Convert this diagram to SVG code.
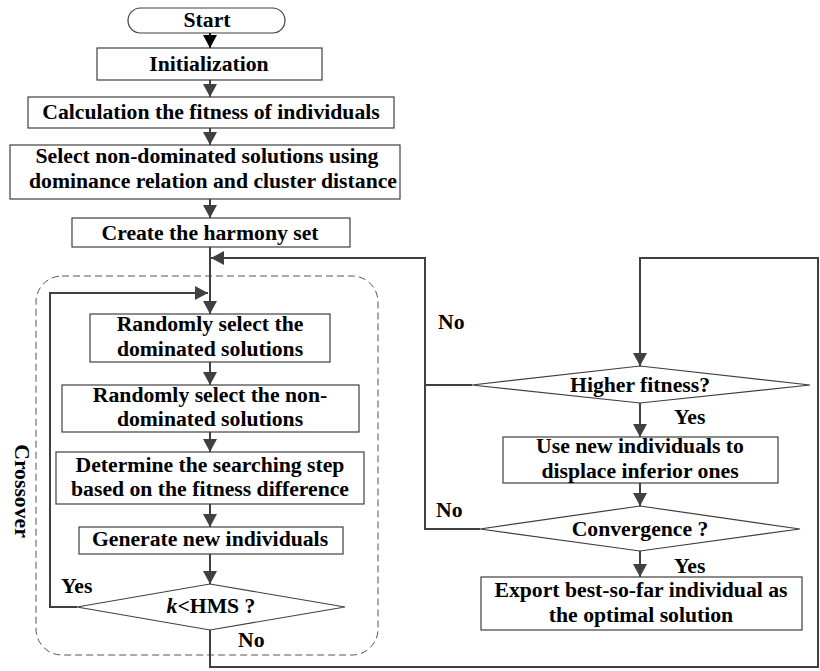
<svg xmlns="http://www.w3.org/2000/svg" width="820" height="671" viewBox="0 0 820 671">
<defs>
<style>
.box{fill:#fff;stroke:#404040;stroke-width:1.2}
.t{font-family:"Liberation Serif","Times New Roman",serif;font-weight:bold;font-size:21.7px;fill:#000;text-anchor:middle}
.l{font-family:"Liberation Serif","Times New Roman",serif;font-weight:bold;font-size:21.7px;fill:#000}
.c{fill:none;stroke:#404040;stroke-width:2}
</style>
<marker id="ah" markerUnits="userSpaceOnUse" markerWidth="15" markerHeight="15" refX="13" refY="7" orient="auto"><path d="M0,0 L13,7 L0,14 z" fill="#404040"/></marker>
<marker id="ahb" markerUnits="userSpaceOnUse" markerWidth="15" markerHeight="15" refX="13" refY="7" orient="auto"><path d="M0,0 L13,7 L0,14 z" fill="#000"/></marker>
</defs>
<rect width="820" height="671" fill="#fff"/>
<g id="crossover-group">
<rect x="36" y="276" width="342" height="379" rx="26" ry="26" fill="none" stroke="#555" stroke-width="1" stroke-dasharray="7,4"/>
<text class="t" transform="translate(15,491) rotate(90)">Crossover</text>
</g>
<g id="connectors">
<path class="c" d="M210,33 V48" marker-end="url(#ahb)" style="stroke:#000"/>
<path class="c" d="M210,80 V97" marker-end="url(#ah)"/>
<path class="c" d="M210,128 V145" marker-end="url(#ah)"/>
<path class="c" d="M210,199 V218" marker-end="url(#ah)"/>
<path class="c" d="M210,247 V314" marker-end="url(#ah)"/>
<path class="c" d="M472,385 H425 V258 H211" marker-end="url(#ah)"/>
<path class="c" d="M480,529 H425 V385"/>
<path class="c" d="M77,607 H50 V293 H208" marker-end="url(#ah)"/>
<path class="c" d="M210,362 V385" marker-end="url(#ah)"/>
<path class="c" d="M210,432 V452" marker-end="url(#ah)"/>
<path class="c" d="M210,504 V527" marker-end="url(#ah)"/>
<path class="c" d="M210,554 V584" marker-end="url(#ah)"/>
<path class="c" d="M210,630 V667 H818 V258 H640 V366" marker-end="url(#ah)"/>
<path class="c" d="M640,403 V437" marker-end="url(#ah)"/>
<path class="c" d="M640,483 V506" marker-end="url(#ah)"/>
<path class="c" d="M640,551 V577" marker-end="url(#ah)"/>
<text class="l" x="61" y="593">Yes</text>
<text class="l" x="238" y="647">No</text>
<text class="l" x="438" y="329">No</text>
<text class="l" x="674" y="424">Yes</text>
<text class="l" x="436" y="517">No</text>
<text class="l" x="674" y="573">Yes</text>
</g>
<g id="start">
<rect class="box" x="128" y="8" width="157" height="25" rx="12.5" ry="12.5"/>
<text class="t" x="207" y="27">Start</text>
</g>
<g id="init">
<rect class="box" x="97" y="48" width="225" height="32"/>
<text class="t" x="209" y="71">Initialization</text>
</g>
<g id="calc">
<rect class="box" x="28" y="97" width="366" height="31"/>
<text class="t" x="211" y="119">Calculation the fitness of individuals</text>
</g>
<g id="select">
<rect class="box" x="10" y="145" width="390" height="54"/>
<text class="t" x="207" y="163">Select non-dominated solutions using</text>
<text class="t" x="213" y="188">dominance relation and cluster distance</text>
</g>
<g id="create">
<rect class="box" x="72" y="218" width="278" height="29"/>
<text class="t" x="210" y="240">Create the harmony set</text>
</g>
<g id="rand-dom">
<rect class="box" x="90" y="314" width="240" height="48"/>
<text class="t" x="210" y="331">Randomly select the</text>
<text class="t" x="210" y="356">dominated solutions</text>
</g>
<g id="rand-nondom">
<rect class="box" x="62" y="385" width="297" height="47"/>
<text class="t" x="210" y="402">Randomly select the non-</text>
<text class="t" x="210" y="426">dominated solutions</text>
</g>
<g id="step">
<rect class="box" x="56" y="452" width="308" height="52"/>
<text class="t" x="210" y="472">Determine the searching step</text>
<text class="t" x="210" y="496">based on the fitness difference</text>
</g>
<g id="generate">
<rect class="box" x="79" y="527" width="264" height="27"/>
<text class="t" x="210" y="546">Generate new individuals</text>
</g>
<g id="khms">
<polygon class="box" points="210,584 345,607 210,630 77,607"/>
<text class="t" x="211" y="613"><tspan font-style="italic">k</tspan>&lt;HMS ?</text>
</g>
<g id="higher">
<polygon class="box" points="640,366 810,385 640,403 472,385"/>
<text class="t" x="640" y="392">Higher fitness?</text>
</g>
<g id="use">
<rect class="box" x="503" y="437" width="275" height="46"/>
<text class="t" x="640" y="453">Use new individuals to</text>
<text class="t" x="640" y="478">displace inferior ones</text>
</g>
<g id="conv">
<polygon class="box" points="640,506 800,529 640,551 480,529"/>
<text class="t" x="640" y="536">Convergence ?</text>
</g>
<g id="export">
<rect class="box" x="481" y="577" width="321" height="53"/>
<text class="t" x="641" y="597">Export best-so-far individual as</text>
<text class="t" x="641" y="622">the optimal solution</text>
</g>
</svg>
